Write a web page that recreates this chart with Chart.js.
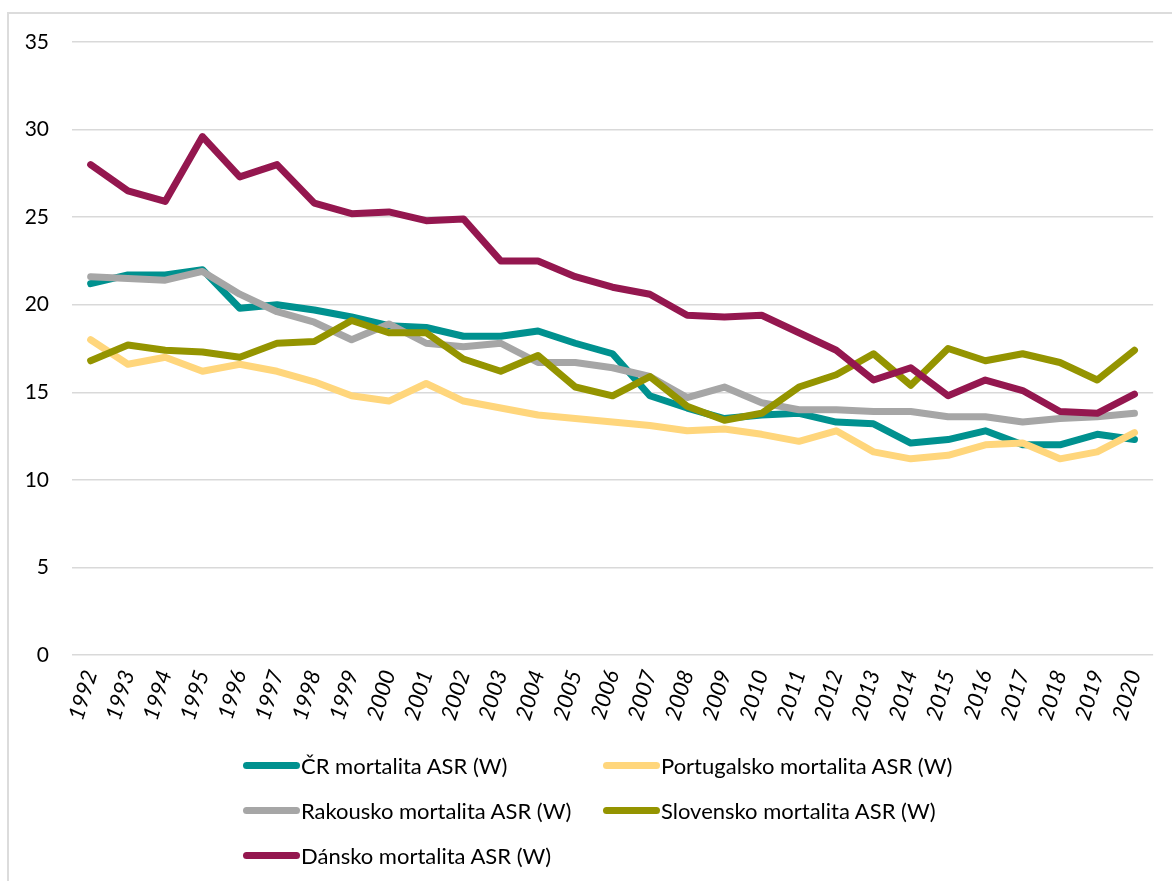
<!DOCTYPE html>
<html>
<head>
<meta charset="utf-8">
<script src="https://cdn.jsdelivr.net/npm/chart.js@4.4.1/dist/chart.umd.min.js"></script>
<style>
  html, body { margin: 0; padding: 0; background: #fff; }
  body { width: 1172px; height: 881px; position: relative; overflow: hidden; font-family: Lato, "Open Sans", sans-serif; }
  #frame { position: absolute; left: 7px; top: 12px; width: 1200px; height: 900px; border-left: 2px solid #dcdcdc; border-top: 2px solid #dcdcdc; }
  #wrap { position: absolute; left: 0; top: 0; width: 1172px; height: 745px; }
  #legend { position: absolute; left: 0; top: 0; width: 1172px; height: 881px; pointer-events: none; }
  .item { position: absolute; height: 30px; display: flex; align-items: center; font-size: 22px; color: #000; white-space: nowrap; }
  .swatch { width: 57px; height: 7px; border-radius: 3.5px; margin-right: 1px; }
</style>
</head>
<body>
<div id="frame"></div>
<div id="wrap"><canvas id="c" width="1172" height="745"></canvas></div>
<div id="legend"></div>
<script>
const years = ['1992','1993','1994','1995','1996','1997','1998','1999','2000','2001','2002','2003','2004','2005','2006','2007','2008','2009','2010','2011','2012','2013','2014','2015','2016','2017','2018','2019','2020'];
const yTicks = [0, 5, 10, 15, 20, 25, 30, 35];

const crLabel = 'ČR mortalita ASR (W)';
const crValues = [21.2, 21.7, 21.7, 22.0, 19.8, 20.0, 19.7, 19.3, 18.8, 18.7, 18.2, 18.2, 18.5, 17.8, 17.2, 14.8, 14.1, 13.5, 13.7, 13.8, 13.3, 13.2, 12.1, 12.3, 12.8, 12.0, 12.0, 12.6, 12.3];

const ptLabel = 'Portugalsko mortalita ASR (W)';
const ptValues = [18.0, 16.6, 17.0, 16.2, 16.6, 16.2, 15.6, 14.8, 14.5, 15.5, 14.5, 14.1, 13.7, 13.5, 13.3, 13.1, 12.8, 12.9, 12.6, 12.2, 12.8, 11.6, 11.2, 11.4, 12.0, 12.1, 11.2, 11.6, 12.7];

const atLabel = 'Rakousko mortalita ASR (W)';
const atValues = [21.6, 21.5, 21.4, 21.9, 20.6, 19.6, 19.0, 18.0, 18.9, 17.8, 17.6, 17.8, 16.7, 16.7, 16.4, 15.9, 14.7, 15.3, 14.4, 14.0, 14.0, 13.9, 13.9, 13.6, 13.6, 13.3, 13.5, 13.6, 13.8];

const skLabel = 'Slovensko mortalita ASR (W)';
const skValues = [16.8, 17.7, 17.4, 17.3, 17.0, 17.8, 17.9, 19.1, 18.4, 18.4, 16.9, 16.2, 17.1, 15.3, 14.8, 15.9, 14.2, 13.4, 13.8, 15.3, 16.0, 17.2, 15.4, 17.5, 16.8, 17.2, 16.7, 15.7, 17.4];

const dkLabel = 'Dánsko mortalita ASR (W)';
const dkValues = [28.0, 26.5, 25.9, 29.6, 27.3, 28.0, 25.8, 25.2, 25.3, 24.8, 24.9, 22.5, 22.5, 21.6, 21.0, 20.6, 19.4, 19.3, 19.4, 18.4, 17.4, 15.7, 16.4, 14.8, 15.7, 15.1, 13.9, 13.8, 14.9];

const colors = ['#00918f', '#ffd67c', '#a6a6a6', '#949400', '#94174f'];

function ds(label, data, color, order) {
  return {
    label, data, borderColor: color, backgroundColor: color,
    borderWidth: 7, pointRadius: 0, pointHoverRadius: 0, tension: 0,
    borderCapStyle: 'round', borderJoinStyle: 'round', fill: false, order
  };
}

const chart = new Chart(document.getElementById('c'), {
  type: 'line',
  data: {
    labels: years,
    datasets: [
      ds(crLabel, crValues, colors[0], 5),
      ds(ptLabel, ptValues, colors[1], 4),
      ds(atLabel, atValues, colors[2], 3),
      ds(skLabel, skValues, colors[3], 2),
      ds(dkLabel, dkValues, colors[4], 1)
    ]
  },
  options: {
    responsive: false,
    animation: false,
    events: [],
    layout: { padding: { left: 0, right: 16, top: 42, bottom: 0 } },
    plugins: { legend: { display: false }, tooltip: { enabled: false } },
    scales: {
      x: {
        offset: true,
        grid: { display: false, drawTicks: false },
        border: { display: false },
        ticks: {
          autoSkip: false, minRotation: 73, maxRotation: 73, padding: 12,
          color: '#000', font: { family: 'Lato', size: 22, style: 'italic' }
        },
        afterFit(scale) { scale.height = 90; }
      },
      y: {
        min: 0, max: 35,
        afterBuildTicks(scale) { scale.ticks = yTicks.map(v => ({ value: v })); },
        grid: { color: '#d9d9d9', lineWidth: 1.5, drawTicks: false },
        border: { display: false },
        ticks: { padding: 23, color: '#000', font: { family: 'Lato', size: 21 } },
        afterFit(scale) { scale.width = 72; }
      }
    }
  }
});

// HTML legend built from the chart's datasets (2 columns, 3 rows)
const legend = document.getElementById('legend');
const colX = [243, 603];
const rowY = [765, 810, 855];
chart.data.datasets.forEach((d, i) => {
  const el = document.createElement('div');
  el.className = 'item';
  el.style.left = colX[i % 2] + 'px';
  el.style.top = (rowY[Math.floor(i / 2)] - 15) + 'px';
  const sw = document.createElement('span');
  sw.className = 'swatch';
  sw.style.background = d.borderColor;
  const tx = document.createElement('span');
  tx.textContent = d.label;
  el.appendChild(sw); el.appendChild(tx);
  legend.appendChild(el);
});
</script>
</body>
</html>
